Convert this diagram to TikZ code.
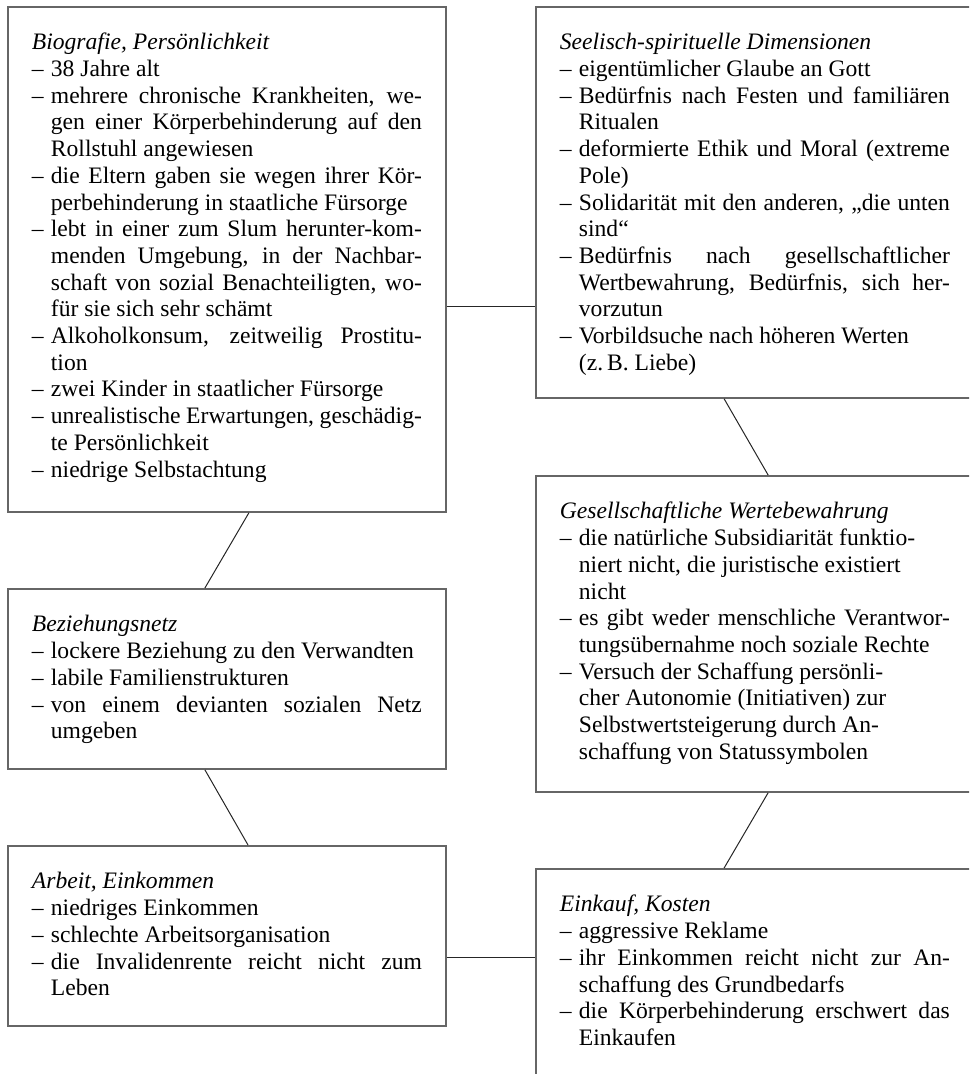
\documentclass[tikz,border=0pt]{standalone}
\usepackage{fontspec}
\setmainfont{Liberation Serif}
\usetikzlibrary{calc}

\newcommand{\itm}{\par\noindent\hangindent=9.5pt\hangafter=1\makebox[9.5pt][l]{–}}
\newcommand{\boxtitle}[1]{\noindent{\itshape #1}}
\newcommand{\tuneparas}{\tolerance=10000\relax\hyphenpenalty=10000\relax\exhyphenpenalty=10000\relax}

\tikzset{
  topic/.style={draw=black!60, line width=0.9pt, anchor=north west,
    text width=195pt, inner xsep=12pt, inner ysep=0pt, text height=21.5pt, align=justify,
    font=\fontsize{11.8}{13.35}\selectfont\tuneparas},
  link/.style={black!85, line width=0.5pt}
}

\begin{document}
\begin{tikzpicture}[x=0.5pt,y=-0.5pt]
  \useasboundingbox (0,0) rectangle (969,1074);
  \clip (0,0) rectangle (969,1074);

  % left column
  \node[topic, text depth=231pt] (bio) at (7,6) {%
    \boxtitle{Biografie, Persönlichkeit}
    \itm 38 Jahre alt
    \itm mehrere chronische Krankheiten, we-\linebreak gen einer Körperbehinderung auf den\linebreak Rollstuhl angewiesen
    \itm die Eltern gaben sie wegen ihrer Kör-\linebreak perbehinderung in staatliche Fürsorge
    \itm lebt in einer zum Slum herunter-kom-\linebreak menden Umgebung, in der Nachbar-\linebreak schaft von sozial Benachteiligten, wo-\linebreak für sie sich sehr schämt
    \itm Alkoholkonsum, zeitweilig Prostitu-\linebreak tion
    \itm zwei Kinder in staatlicher Fürsorge
    \itm unrealistische Erwartungen, geschädig-\linebreak te Persönlichkeit
    \itm niedrige Selbstachtung\par};
  \node[topic, text depth=68.5pt] (netz) at (7,588) {%
    \boxtitle{Beziehungsnetz}
    \itm lockere Beziehung zu den Verwandten
    \itm labile Familienstrukturen
    \itm von einem devianten sozialen Netz\linebreak umgeben\par};
  \node[topic, text depth=68.5pt] (arbeit) at (7,845) {%
    \boxtitle{Arbeit, Einkommen}
    \itm niedriges Einkommen
    \itm schlechte Arbeitsorganisation
    \itm die Invalidenrente reicht nicht zum\linebreak Leben\par};

  % right column
  \node[topic, text depth=174pt] (seele) at (535,6) {%
    \boxtitle{Seelisch-spirituelle Dimensionen}
    \itm eigentümlicher Glaube an Gott
    \itm Bedürfnis nach Festen und familiären\linebreak Ritualen
    \itm deformierte Ethik und Moral (extreme\linebreak Pole)
    \itm Solidarität mit den anderen, „die unten\linebreak sind“
    \itm Bedürfnis nach gesellschaftlicher\linebreak Wertbewahrung, Bedürfnis, sich her-\linebreak vorzutun
    \itm Vorbildsuche nach höheren Werten\newline (z.\,B. Liebe)\par};
  \node[topic, text depth=136.5pt] (werte) at (535,475) {%
    \boxtitle{Gesellschaftliche Wertebewahrung}
    \itm die natürliche Subsidiarität funktio-\newline niert nicht, die juristische existiert\newline nicht
    \itm es gibt weder menschliche Verantwor-\linebreak tungsübernahme noch soziale Rechte
    \itm Versuch der Schaffung persönli-\newline cher Autonomie (Initiativen) zur\newline Selbstwertsteigerung durch An-\newline schaffung von Statussymbolen\par};
  \node[topic, text depth=83.5pt] (einkauf) at (535,868) {%
    \boxtitle{Einkauf, Kosten}
    \itm aggressive Reklame
    \itm ihr Einkommen reicht nicht zur An-\linebreak schaffung des Grundbedarfs
    \itm die Körperbehinderung erschwert das\linebreak Einkaufen\par};

  % connectors
  \coordinate (p1) at ($(bio.north east)!.592!(bio.south east)$);
  \coordinate (p2) at ($(arbeit.north east)!.617!(arbeit.south east)$);
  \draw[link] (p1) -- (p1 -| seele.west);
  \draw[link] (p2) -- (p2 -| einkauf.west);
  \draw[link] ($(bio.south west)!.55!(bio.south east)$) -- ($(netz.north west)!.45!(netz.north east)$);
  \draw[link] ($(netz.south west)!.45!(netz.south east)$) -- ($(arbeit.north west)!.548!(arbeit.north east)$);
  \draw[link] ($(seele.south west)!.43!(seele.south east)$) -- ($(werte.north west)!.53!(werte.north east)$);
  \draw[link] ($(werte.south west)!.53!(werte.south east)$) -- ($(einkauf.north west)!.43!(einkauf.north east)$);
\end{tikzpicture}
\end{document}
